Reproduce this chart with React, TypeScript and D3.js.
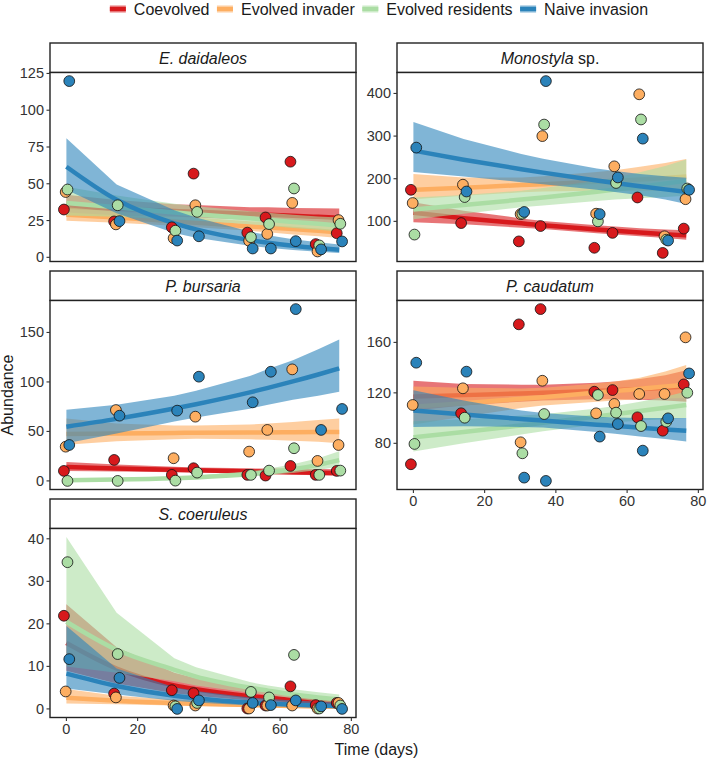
import * as d3 from "d3";

const groups = ["Coevolved", "Evolved invader", "Evolved residents", "Naive invasion"];
const groupColors = ["#d7191c", "#fdae61", "#abdda4", "#2b83ba"];
const days = [0, 14.1, 30.3, 36.4, 51.5, 56.6, 63.6, 70.7, 76.6];
const dodge = [-0.7, -0.2, 0.3, 0.8];
const xTicks = [0, 20, 40, 60, 80];

// E. daidaleos
const daidaleosObs = [
  [32.5, 24.4, 20.4, 56.9, 16.8, 27.1, 65.0, 9.0, 16.4],
  [44.4, 22.4, 13.0, 35.4, 11.2, 15.9, 37.0, 4.0, 25.3],
  [46.1, 35.4, 18.1, 30.9, 13.7, 22.6, 46.8, 8.1, 22.8],
  [119.8, 24.6, 11.4, 14.3, 6.0, 6.0, 11.0, 5.4, 10.8],
];
const daidaleosFit = [
  [34.5, 33, 31.5, 31, 29.5, 29, 28.2, 27.5, 26.9],
  [29, 27, 24.5, 23.5, 21, 20.3, 19.2, 18, 17],
  [37, 34, 30.5, 29.3, 26.5, 25.5, 24, 22.8, 21.7],
  [61.6, 39.1, 23.1, 19.0, 11.7, 9.9, 7.9, 6.3, 5.2],
];
const daidaleosLo = [
  [28, 28, 27.5, 27, 25.5, 24.5, 23.5, 22, 20.8],
  [24.8, 23.5, 21.5, 20.5, 18, 17, 15.5, 14.3, 13.2],
  [28.5, 27.5, 25.5, 24.8, 22.5, 21.5, 20, 18.7, 17.5],
  [46, 30, 16.5, 13.3, 7.8, 6.5, 5, 3.8, 3],
];
const daidaleosHi = [
  [42.5, 39, 36, 35.5, 34, 34, 33.6, 33.4, 33.2],
  [34, 31, 28, 27, 24.5, 24, 23.5, 22.5, 21.5],
  [48, 42, 36.5, 34.7, 31.3, 30.3, 29, 27.8, 27],
  [81, 49.5, 32, 27, 17.5, 15, 12.3, 10.3, 8.8],
];
const daidaleosTicks = [0, 25, 50, 75, 100, 125];

// Monostyla sp.
const monostylaObs = [
  [174, 96, 53, 89, 38, 73, 156, 26, 83],
  [143, 186, 117, 300, 118, 229, 398, 65, 152],
  [69, 157, 118, 327, 100, 190, 339, 57, 177],
  [273, 170, 122, 429, 117, 203, 294, 55, 174],
];
const monostylaFit = [
  [120, 107.4, 95.3, 90.9, 81, 77.9, 73.9, 70, 67],
  [174, 179, 185, 187, 193, 195, 198, 202, 205],
  [128, 138.3, 151.1, 156.2, 169.7, 174.5, 181.4, 188.6, 195],
  [266, 244.7, 222.3, 214.3, 195.9, 190.1, 182.4, 175, 169],
];
const monostylaLo = [
  [98, 93, 85, 82, 72, 69, 65, 61, 57],
  [152, 160, 168, 170, 172, 172, 172, 172, 171],
  [105, 118, 133, 137, 148, 151, 154, 157, 160],
  [216, 205, 192, 187, 174, 169, 161, 151, 141],
];
const monostylaHi = [
  [145, 125, 107, 101, 91, 88, 84, 81, 79],
  [211, 203, 203, 206, 216, 220, 228, 237, 246],
  [156, 162, 172, 178, 195, 202, 215, 230, 245],
  [333, 293, 258, 247, 224, 218, 211, 206, 202],
];
const monostylaTicks = [100, 200, 300, 400];

// P. bursaria
const bursariaObs = [
  [10.1, 21.2, 6.1, 12.8, 6.1, 5.4, 15.1, 6.1, 10.1],
  [34.6, 71.6, 22.9, 64.9, 29.6, 51.5, 112.7, 20.2, 36.3],
  [0, 0, 0.3, 8.4, 6.1, 10.4, 33, 6.1, 10.4],
  [36.3, 65.9, 71, 105.3, 79.4, 110.3, 173.6, 51.5, 72.7],
];
const bursariaFit = [
  [14, 12.6, 11.2, 10.7, 9.6, 9.3, 8.8, 8.3, 7.9],
  [47.5, 48, 48.5, 48.7, 49, 49, 49.2, 49.3, 49.5],
  [0.7, 1.31, 2.69, 3.52, 6.9, 8.7, 11.8, 16.2, 21],
  [54.8, 62.7, 73.1, 77.5, 89.5, 94, 100.5, 107.5, 113.7],
];
const bursariaLo = [
  [10, 9.5, 8.8, 8.4, 7.2, 6.8, 6.2, 5.7, 5.2],
  [36.5, 40, 42, 42.5, 42, 41.5, 40.5, 39.5, 38],
  [0.3, 0.7, 1.6, 2.2, 4.7, 6, 8.1, 11, 14.5],
  [38, 48, 60, 64, 73, 77, 82, 86, 90],
];
const bursariaHi = [
  [19, 16.5, 14.2, 13.5, 12.7, 12.5, 12.3, 12, 11.8],
  [63, 58, 56, 56, 57, 58, 59.5, 61.5, 63],
  [1.6, 2.4, 4.3, 5.4, 9.8, 12.3, 16.8, 23, 30],
  [72, 77, 86, 91, 106, 113, 122, 133, 143],
];
const bursariaTicks = [0, 50, 100, 150];

// P. caudatum
const caudatumObs = [
  [63.4, 103.8, 174.3, 186.4, 120.9, 122.2, 100.6, 90, 126.7],
  [110.4, 123.6, 80.8, 129.6, 103.8, 111.2, 119.1, 119.1, 164],
  [79.5, 100.3, 72.1, 103.2, 118.3, 104.3, 93.7, 97.2, 120.1],
  [143.9, 136.8, 52.8, 50.2, 85.3, 95.3, 74.2, 99.8, 135.4],
];
const caudatumFit = [
  [117, 118.2, 119.5, 120, 121.5, 122, 123, 124, 125],
  [109, 111.8, 115.3, 116.6, 120.2, 121.4, 123.2, 125, 126.5],
  [84.8, 89, 94.2, 96.2, 101.3, 103.1, 105.6, 108.2, 110.3],
  [106, 102.9, 99.3, 98, 94.8, 93.8, 92.4, 91, 90],
];
const caudatumLo = [
  [106, 110, 113, 114, 115, 115, 114.5, 114, 113],
  [95, 101, 108, 110, 113, 114, 115, 115.5, 116],
  [73.5, 80, 87, 89.5, 95, 96.5, 98, 99, 100],
  [93, 93.5, 93, 92.5, 89, 87.5, 85.5, 83.5, 81.5],
];
const caudatumHi = [
  [129.5, 127, 126.5, 126.5, 128, 129, 131, 134, 138],
  [125, 124, 123.5, 124, 127.5, 129, 132, 137, 142],
  [97.5, 99, 102, 103, 107.5, 109.5, 113, 117, 121],
  [122, 114, 106, 104, 101, 100.5, 100, 100, 100],
];
const caudatumTicks = [80, 120, 160];

// S. coeruleus
const coeruleusObs = [
  [21.9, 3.6, 4.4, 3.7, 0.1, 0.8, 5.3, 0.9, 1.4],
  [4.1, 2.7, 0.8, 0.8, 0.1, 0.8, 0.8, 0.1, 1.4],
  [34.5, 12.9, 0.6, 1.4, 4.0, 2.7, 12.7, 0.1, 0.8],
  [11.7, 7.3, 0, 2.0, 1.4, 0.9, 2.0, 0.6, 0],
];
const coeruleusFit = [
  [15.5, 9.5, 5.5, 4.6, 3.0, 2.6, 2.1, 1.7, 1.4],
  [2.6, 1.9, 1.35, 1.2, 0.9, 0.8, 0.68, 0.57, 0.5],
  [20.5, 13.9, 9.2, 7.6, 5.0, 4.3, 3.4, 2.7, 2.2],
  [8.3, 5.4, 3.1, 2.5, 1.5, 1.3, 1.0, 0.8, 0.6],
];
const coeruleusLo = [
  [9, 6, 3.7, 3.1, 2.0, 1.7, 1.3, 1.0, 0.8],
  [1.3, 1.1, 0.8, 0.7, 0.5, 0.45, 0.35, 0.3, 0.25],
  [10, 8.5, 6.5, 5.5, 3.8, 3.3, 2.5, 1.8, 1.4],
  [4.8, 3.4, 1.9, 1.5, 0.8, 0.7, 0.5, 0.35, 0.25],
];
const coeruleusHi = [
  [24.6, 14.5, 8.5, 7.2, 4.8, 4.2, 3.5, 2.9, 2.5],
  [4.7, 3.1, 2.2, 2.0, 1.6, 1.5, 1.35, 1.2, 1.1],
  [40.4, 22.6, 11.9, 9.8, 6.3, 5.5, 4.6, 3.9, 3.4],
  [19.5, 9.5, 5.1, 4.2, 2.7, 2.4, 2.0, 1.7, 1.5],
];
const coeruleusTicks = [0, 10, 20, 30, 40];

// layout
const W = 709;
const H = 758;
const colX = [50, 397];
const panelW = 306;
const rowTop = [43, 271, 499];
const stripH = 29.5;
const panelH = 189;
const FONT = '"Liberation Sans", Arial, Helvetica, sans-serif';
const ink = "#222";
const tickInk = "#333";

const panels = [
  { name: "E. daidaleos", suffix: "", obs: daidaleosObs, fit: daidaleosFit, lo: daidaleosLo, hi: daidaleosHi, ticks: daidaleosTicks, col: 0, row: 0, xAxis: false },
  { name: "Monostyla", suffix: " sp.", obs: monostylaObs, fit: monostylaFit, lo: monostylaLo, hi: monostylaHi, ticks: monostylaTicks, col: 1, row: 0, xAxis: false },
  { name: "P. bursaria", suffix: "", obs: bursariaObs, fit: bursariaFit, lo: bursariaLo, hi: bursariaHi, ticks: bursariaTicks, col: 0, row: 1, xAxis: false },
  { name: "P. caudatum", suffix: "", obs: caudatumObs, fit: caudatumFit, lo: caudatumLo, hi: caudatumHi, ticks: caudatumTicks, col: 1, row: 1, xAxis: true },
  { name: "S. coeruleus", suffix: "", obs: coeruleusObs, fit: coeruleusFit, lo: coeruleusLo, hi: coeruleusHi, ticks: coeruleusTicks, col: 0, row: 2, xAxis: true },
];

// ggplot-style 5% padding
function expand(lo: number, hi: number) {
  const pad = (hi - lo) * 0.05;
  return [lo - pad, hi + pad];
}

const xMin = (d3.min(days) as number) + (d3.min(dodge) as number);
const xMax = (d3.max(days) as number) + (d3.max(dodge) as number);
const x = d3.scaleLinear().domain(expand(xMin, xMax)).range([0, panelW]);

function Panel({ p }: { p: (typeof panels)[number] }) {
  const all = [...p.obs.flat(), ...p.lo.flat(), ...p.hi.flat()];
  const y = d3
    .scaleLinear()
    .domain(expand(d3.min(all) as number, d3.max(all) as number))
    .range([panelH, 0]);
  const line = d3
    .line<number>()
    .x((_, i) => x(days[i]))
    .y((d) => y(d))
    .curve(d3.curveMonotoneX);
  const ribbon = (gi: number) =>
    d3
      .area<number>()
      .x((d) => x(d))
      .y0((_, i) => y(p.lo[gi][i]))
      .y1((_, i) => y(p.hi[gi][i]))(days) as string;
  const left = colX[p.col];
  const top = rowTop[p.row];
  return (
    <g>
      <rect x={left} y={top} width={panelW} height={stripH} fill="#fff" stroke={ink} strokeWidth={1.4} />
      <text
        x={left + panelW / 2}
        y={top + stripH / 2}
        textAnchor="middle"
        dominantBaseline="central"
        fontSize={16}
        fill="#1a1a1a"
      >
        <tspan fontStyle="italic">{p.name}</tspan>
        {p.suffix && <tspan>{p.suffix}</tspan>}
      </text>
      <g transform={`translate(${left},${top + stripH})`}>
        <rect width={panelW} height={panelH} fill="#fff" />
        {groups.map((g, gi) => (
          <g key={g}>
            <path d={ribbon(gi)} fill={groupColors[gi]} fillOpacity={0.6} stroke="none" />
            <path d={line(p.fit[gi]) as string} fill="none" stroke={groupColors[gi]} strokeWidth={4.5} />
          </g>
        ))}
        {groups.map((g, gi) => (
          <g key={g}>
            {p.obs[gi].map((v, i) => (
              <circle
                key={i}
                cx={x(days[i] + dodge[gi])}
                cy={y(v)}
                r={5.4}
                fill={groupColors[gi]}
                stroke="#111"
                strokeWidth={0.8}
              />
            ))}
          </g>
        ))}
        <rect width={panelW} height={panelH} fill="none" stroke={ink} strokeWidth={1.4} />
        {p.ticks.map((t) => (
          <g key={t} transform={`translate(0,${y(t)})`}>
            <line x1={-3.5} x2={0} stroke={tickInk} strokeWidth={1.1} />
            <text x={-6} textAnchor="end" dominantBaseline="central" fontSize={14.5} fill={tickInk}>
              {t}
            </text>
          </g>
        ))}
        {p.xAxis &&
          xTicks.map((t) => (
            <g key={t} transform={`translate(${x(t)},${panelH})`}>
              <line y1={0} y2={3.5} stroke={tickInk} strokeWidth={1.1} />
              <text y={6} textAnchor="middle" dominantBaseline="hanging" fontSize={14.5} fill={tickInk}>
                {t}
              </text>
            </g>
          ))}
      </g>
    </g>
  );
}

function measure(s: string) {
  const ctx = document.createElement("canvas").getContext("2d");
  if (!ctx) return s.length * 8;
  ctx.font = `16px ${FONT}`;
  return ctx.measureText(s).width;
}

function Legend() {
  const keyW = 16;
  const keyGap = 8;
  const itemGap = 7.5;
  const widths = groups.map(measure);
  const total = d3.sum(widths) + groups.length * (keyW + keyGap) + itemGap * (groups.length - 1);
  let cur = 379 - total / 2;
  const cy = 9;
  const items = groups.map((g, i) => {
    const x0 = cur;
    cur += keyW + keyGap + widths[i] + itemGap;
    return (
      <g key={g}>
        <rect x={x0} y={cy - 3.5} width={keyW} height={7} fill={groupColors[i]} fillOpacity={0.6} />
        <line x1={x0} x2={x0 + keyW} y1={cy} y2={cy} stroke={groupColors[i]} strokeWidth={4} />
        <text x={x0 + keyW + keyGap} y={cy} dominantBaseline="central" fontSize={16} fill="#1a1a1a">
          {g}
        </text>
      </g>
    );
  });
  return <g>{items}</g>;
}

export default function App() {
  return (
    <svg
      width={W}
      height={H}
      style={{ position: "absolute", left: 0, top: 0, background: "#fff" }}
      fontFamily={FONT}
    >
      <rect width={W} height={H} fill="#fff" />
      <Legend />
      {panels.map((p) => (
        <Panel key={p.name} p={p} />
      ))}
      <text x={(colX[0] + colX[1] + panelW) / 2} y={755} textAnchor="middle" fontSize={16} fill="#1a1a1a">
        Time (days)
      </text>
      <text transform="translate(13,395) rotate(-90)" textAnchor="middle" fontSize={16} fill="#1a1a1a">
        Abundance
      </text>
    </svg>
  );
}
